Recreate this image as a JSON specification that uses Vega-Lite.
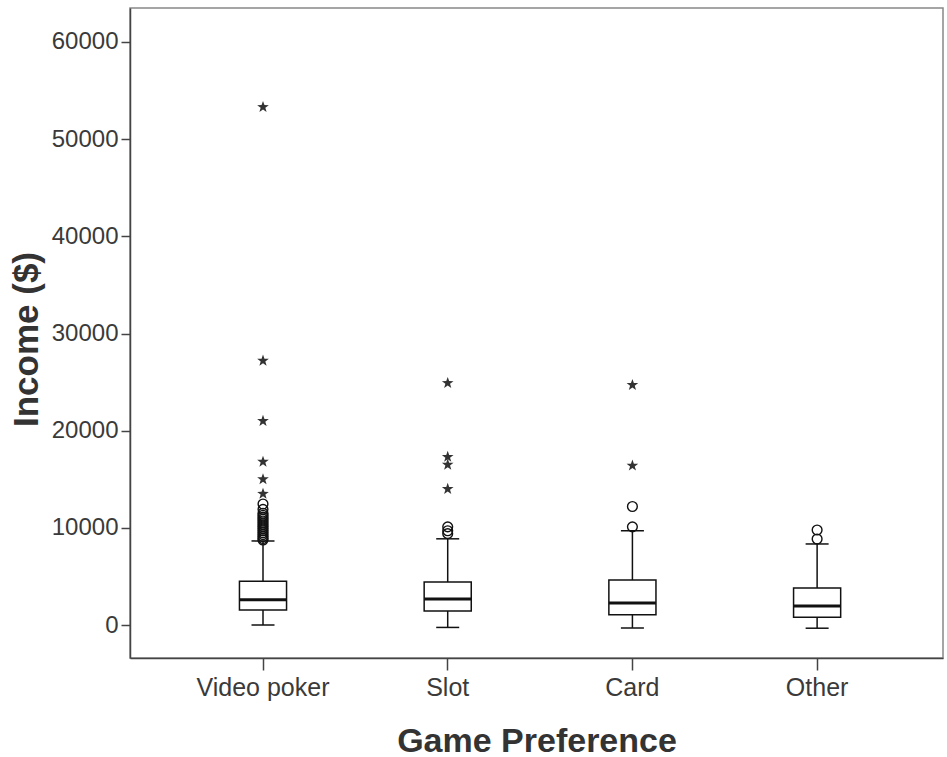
{
  "$schema": "https://vega.github.io/schema/vega-lite/v6.json",
  "width": 813,
  "height": 650,
  "autosize": {"type": "none"},
  "padding": {"left": 130, "top": 8, "right": 4, "bottom": 99},
  "background": "white",
  "config": {
    "view": {"stroke": "#888888", "strokeWidth": 1.5},
    "font": "Liberation Sans",
    "axisY": {
      "format": "d",
      "grid": false,
      "tickSize": 9,
      "tickColor": "#444444",
      "tickWidth": 1.5,
      "domainColor": "#444444",
      "domainWidth": 1.5,
      "labelPadding": 3,
      "labelFont": "Liberation Sans",
      "labelFontSize": 24,
      "labelColor": "#3a3a3a",
      "titleFont": "Liberation Sans",
      "titleFontSize": 35,
      "titleFontWeight": "bold",
      "titleColor": "#333333",
      "titleBaseline": "alphabetic",
      "titleX": -93,
      "titleY": 331
    }
  },
  "datasets": {
    "boxes": [
      {"game": "Video poker", "lower": 0, "q1": 1550, "median": 2600, "q3": 4500, "upper": 8650},
      {"game": "Slot", "lower": -250, "q1": 1450, "median": 2680, "q3": 4430, "upper": 8870},
      {"game": "Card", "lower": -300, "q1": 1050, "median": 2270, "q3": 4640, "upper": 9700},
      {"game": "Other", "lower": -330, "q1": 800, "median": 1960, "q3": 3800, "upper": 8340}
    ],
    "outliers": [
      {"game": "Video poker", "income": 53300, "kind": "star"},
      {"game": "Video poker", "income": 27200, "kind": "star"},
      {"game": "Video poker", "income": 21000, "kind": "star"},
      {"game": "Video poker", "income": 16800, "kind": "star"},
      {"game": "Video poker", "income": 15000, "kind": "star"},
      {"game": "Video poker", "income": 13500, "kind": "star"},
      {"game": "Video poker", "income": 12450, "kind": "circle"},
      {"game": "Video poker", "income": 11900, "kind": "circle"},
      {"game": "Video poker", "income": 11500, "kind": "circle"},
      {"game": "Video poker", "income": 11300, "kind": "circle"},
      {"game": "Video poker", "income": 11100, "kind": "circle"},
      {"game": "Video poker", "income": 10900, "kind": "circle"},
      {"game": "Video poker", "income": 10700, "kind": "circle"},
      {"game": "Video poker", "income": 10500, "kind": "circle"},
      {"game": "Video poker", "income": 10300, "kind": "circle"},
      {"game": "Video poker", "income": 10100, "kind": "circle"},
      {"game": "Video poker", "income": 9900, "kind": "circle"},
      {"game": "Video poker", "income": 9700, "kind": "circle"},
      {"game": "Video poker", "income": 9500, "kind": "circle"},
      {"game": "Video poker", "income": 9300, "kind": "circle"},
      {"game": "Video poker", "income": 9100, "kind": "circle"},
      {"game": "Video poker", "income": 8900, "kind": "circle"},
      {"game": "Video poker", "income": 8750, "kind": "circle"},
      {"game": "Slot", "income": 24900, "kind": "star"},
      {"game": "Slot", "income": 17300, "kind": "star"},
      {"game": "Slot", "income": 16500, "kind": "star"},
      {"game": "Slot", "income": 14000, "kind": "star"},
      {"game": "Slot", "income": 10100, "kind": "circle"},
      {"game": "Slot", "income": 9700, "kind": "circle"},
      {"game": "Slot", "income": 9400, "kind": "circle"},
      {"game": "Card", "income": 24700, "kind": "star"},
      {"game": "Card", "income": 16400, "kind": "star"},
      {"game": "Card", "income": 12200, "kind": "circle"},
      {"game": "Card", "income": 10100, "kind": "circle"},
      {"game": "Other", "income": 9780, "kind": "circle"},
      {"game": "Other", "income": 8850, "kind": "circle"}
    ]
  },
  "encoding": {
    "x": {
      "field": "game",
      "type": "nominal",
      "sort": ["Video poker", "Slot", "Card", "Other"],
      "scale": {"paddingInner": 0, "paddingOuter": 0.2008, "align": 0.548},
      "axis": {
        "title": "Game Preference",
        "labelAngle": 0,
        "tickSize": 12,
        "tickColor": "#444444",
        "tickWidth": 1.5,
        "domainColor": "#444444",
        "domainWidth": 1.5,
        "labelPadding": 5,
        "labelFont": "Liberation Sans",
        "labelFontSize": 25,
        "labelColor": "#3a3a3a",
        "titleFont": "Liberation Sans",
        "titleFontSize": 34,
        "titleFontWeight": "bold",
        "titleColor": "#333333",
        "titleBaseline": "alphabetic",
        "titleY": 93
      }
    }
  },
  "layer": [
    {
      "data": {"name": "boxes"},
      "mark": {"type": "rule", "color": "#111111", "strokeWidth": 1.5},
      "encoding": {
        "y": {"field": "lower", "type": "quantitative", "title": "Income ($)", "axis": {"values": [0, 10000, 20000, 30000, 40000, 50000, 60000]}, "scale": {"domain": [-3396, 63499], "nice": false, "zero": false}},
        "y2": {"field": "upper"}
      }
    },
    {
      "data": {"name": "boxes"},
      "mark": {"type": "tick", "color": "#111111", "size": 23, "thickness": 1.5, "opacity": 1},
      "encoding": {
        "y": {"field": "lower", "type": "quantitative", "title": "Income ($)", "axis": {"values": [0, 10000, 20000, 30000, 40000, 50000, 60000]}, "scale": {"domain": [-3396, 63499], "nice": false, "zero": false}}
      }
    },
    {
      "data": {"name": "boxes"},
      "mark": {"type": "tick", "color": "#111111", "size": 23, "thickness": 1.5, "opacity": 1},
      "encoding": {
        "y": {"field": "upper", "type": "quantitative", "title": "Income ($)", "axis": {"values": [0, 10000, 20000, 30000, 40000, 50000, 60000]}, "scale": {"domain": [-3396, 63499], "nice": false, "zero": false}}
      }
    },
    {
      "data": {"name": "boxes"},
      "mark": {"type": "bar", "fill": "white", "stroke": "#111111", "strokeWidth": 1.5, "opacity": 1, "width": {"band": 0.255}},
      "encoding": {
        "y": {"field": "q1", "type": "quantitative", "title": "Income ($)", "axis": {"values": [0, 10000, 20000, 30000, 40000, 50000, 60000]}, "scale": {"domain": [-3396, 63499], "nice": false, "zero": false}},
        "y2": {"field": "q3"}
      }
    },
    {
      "data": {"name": "boxes"},
      "mark": {"type": "tick", "color": "#111111", "size": 47, "thickness": 3, "opacity": 1},
      "encoding": {
        "y": {"field": "median", "type": "quantitative", "title": "Income ($)", "axis": {"values": [0, 10000, 20000, 30000, 40000, 50000, 60000]}, "scale": {"domain": [-3396, 63499], "nice": false, "zero": false}}
      }
    },
    {
      "data": {"name": "outliers"},
      "transform": [{"filter": "datum.kind === 'circle'"}],
      "mark": {"type": "point", "shape": "circle", "size": 95, "filled": false, "stroke": "#111111", "strokeWidth": 1.4, "opacity": 1},
      "encoding": {
        "y": {"field": "income", "type": "quantitative", "title": "Income ($)", "axis": {"values": [0, 10000, 20000, 30000, 40000, 50000, 60000]}, "scale": {"domain": [-3396, 63499], "nice": false, "zero": false}}
      }
    },
    {
      "data": {"name": "outliers"},
      "transform": [{"filter": "datum.kind === 'star'"}],
      "mark": {"type": "point", "shape": "M0,-1L0.235,-0.324L0.951,-0.309L0.38,0.124L0.588,0.809L0,0.4L-0.588,0.809L-0.38,0.124L-0.951,-0.309L-0.235,-0.324Z", "size": 150, "filled": true, "color": "#333333", "opacity": 1},
      "encoding": {
        "y": {"field": "income", "type": "quantitative", "title": "Income ($)", "axis": {"values": [0, 10000, 20000, 30000, 40000, 50000, 60000]}, "scale": {"domain": [-3396, 63499], "nice": false, "zero": false}}
      }
    }
  ]
}
